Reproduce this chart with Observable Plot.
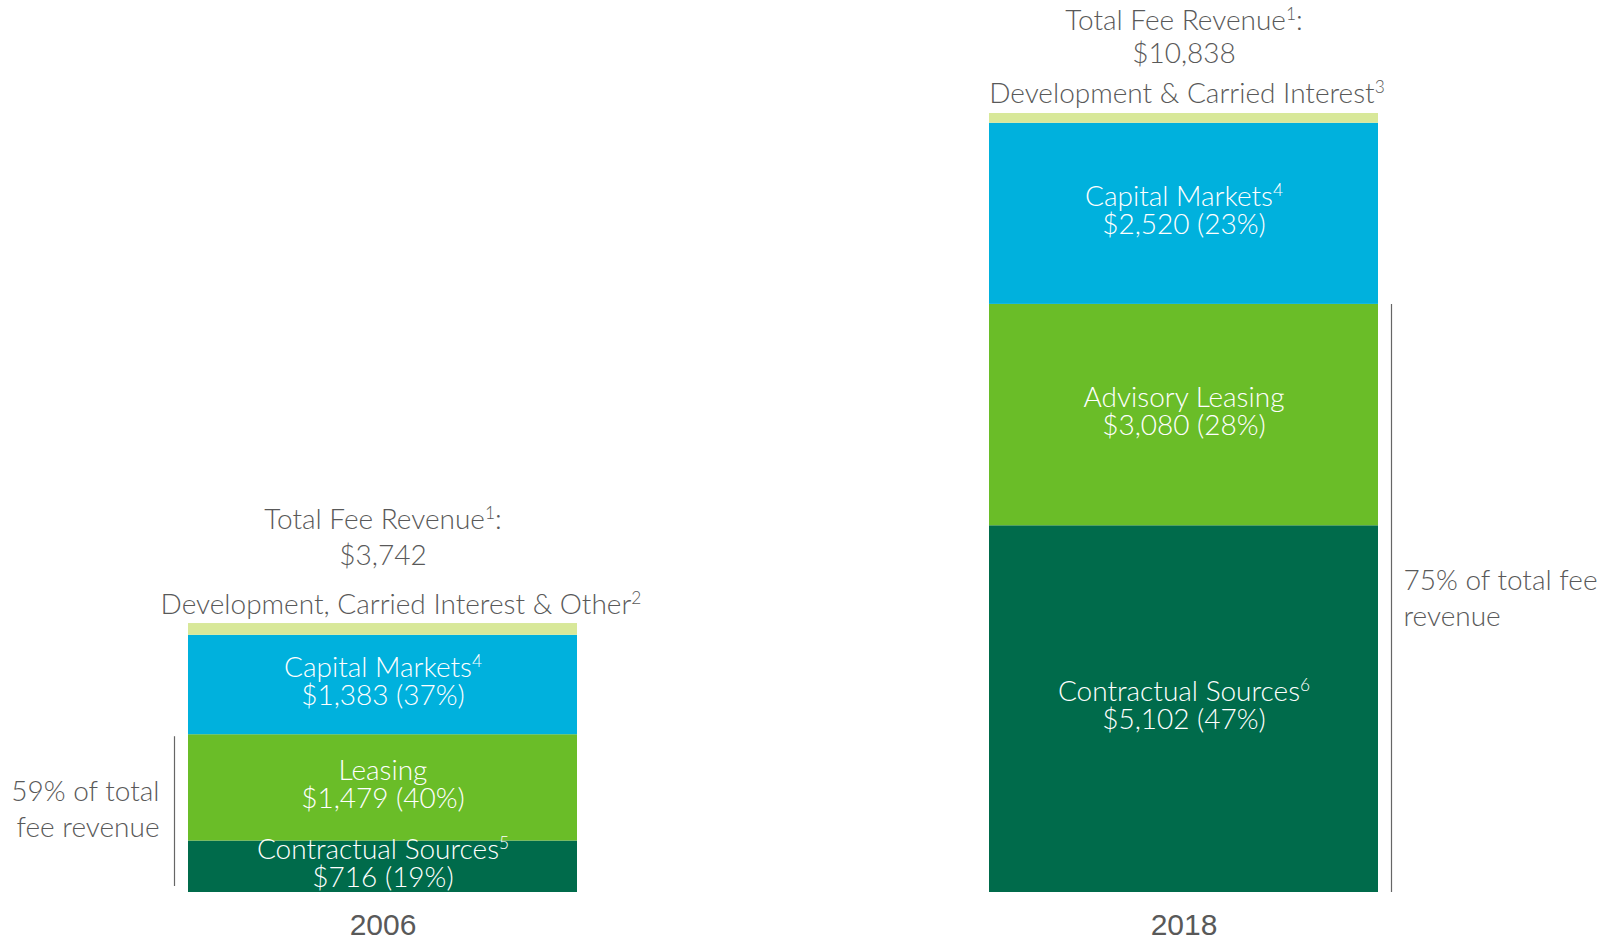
<!DOCTYPE html>
<html>
<head>
<meta charset="utf-8">
<script src="https://cdn.jsdelivr.net/npm/d3@7"></script>
<script src="https://cdn.jsdelivr.net/npm/@observablehq/plot@0.6"></script>
<style>
  html, body { margin: 0; padding: 0; background: #fff; }
  #chart svg { display: block; }
</style>
</head>
<body>
<div id="chart"></div>
<script>
// ---- data ----
const years = ["2006", "2018"];
const contractual = [716, 5102];
const leasing = [1479, 3080];
const capitalMarkets = [1383, 2520];
const development = [164, 136];
const totals = [3742, 10838];
const contractualPct = [19, 47];
const leasingPct = [40, 28];
const capitalPct = [37, 23];
const recurringPct = [59, 75];
const contractualNames = ["Contractual Sources⁵", "Contractual Sources⁶"];
const leasingNames = ["Leasing", "Advisory Leasing"];
const capitalNames = ["Capital Markets⁴", "Capital Markets⁴"];
const developmentNames = ["Development, Carried Interest & Other²", "Development & Carried Interest³"];
const totalTitle = "Total Fee Revenue¹:";
const recurringNotes = ["59% of total\nfee revenue", "75% of total fee\nrevenue"];

const segmentOrder = ["Contractual", "Leasing", "Capital Markets", "Development"];
const segmentColors = ["#006b4b", "#6abd28", "#00b1dd", "#d8e899"];

const fmt = d3.format(",");
const rows = [];
years.forEach((y, i) => {
  rows.push({year: y, seg: "Contractual", value: contractual[i], label: `${contractualNames[i]}\n$${fmt(contractual[i])} (${contractualPct[i]}%)`});
  rows.push({year: y, seg: "Leasing", value: leasing[i], label: `${leasingNames[i]}\n$${fmt(leasing[i])} (${leasingPct[i]}%)`});
  rows.push({year: y, seg: "Capital Markets", value: capitalMarkets[i], label: `${capitalNames[i]}\n$${fmt(capitalMarkets[i])} (${capitalPct[i]}%)`});
  rows.push({year: y, seg: "Development", value: development[i], label: ""});
});
const heads = years.map((y, i) => ({
  year: y, total: totals[i], recurring: contractual[i] + leasing[i],
  devName: developmentNames[i], totalText: `$${fmt(totals[i])}`, note: recurringNotes[i]
}));
const h06 = heads.filter(d => d.year === "2006");
const h18 = heads.filter(d => d.year === "2018");

const FONT = "Lato, 'Open Sans', sans-serif";
const GRAY = "#595959";
const FS = 28;
const FW = 300;

const chart = Plot.plot({
  width: 1612,
  height: 941,
  marginLeft: 188,
  marginRight: 234,
  marginTop: 113,
  marginBottom: 49,
  style: {fontFamily: FONT, background: "#fff"},
  x: {domain: years, paddingInner: 0.5144, paddingOuter: 0, axis: null},
  y: {domain: [0, 10838], axis: null},
  color: {domain: segmentOrder, range: segmentColors},
  marks: [
    Plot.barY(rows, Plot.stackY({x: "year", y: "value", fill: "seg", order: segmentOrder})),
    Plot.text(rows, Plot.stackY({
      x: "year", y: "value", text: "label", z: "seg", order: segmentOrder,
      fill: "white", fontSize: FS, fontWeight: FW, lineHeight: 1.0, dy: -3
    })),
    // dev labels just above bars
    Plot.text(h06, {x: "year", y: "total", text: "devName", dx: 18, dy: -19, fill: GRAY, fontSize: FS, fontWeight: FW}),
    Plot.text(h18, {x: "year", y: "total", text: "devName", dx: 3, dy: -19, fill: GRAY, fontSize: FS, fontWeight: FW}),
    // totals
    Plot.text(h06, {x: "year", y: "total", text: "totalText", dy: -68, fill: GRAY, fontSize: FS, fontWeight: FW}),
    Plot.text(h06, {x: "year", y: "total", text: () => totalTitle, dy: -104, fill: GRAY, fontSize: FS, fontWeight: FW}),
    Plot.text(h18, {x: "year", y: "total", text: "totalText", dy: -59, fill: GRAY, fontSize: FS, fontWeight: FW}),
    Plot.text(h18, {x: "year", y: "total", text: () => totalTitle, dy: -92, fill: GRAY, fontSize: FS, fontWeight: FW}),
    // brackets
    Plot.ruleX(h06, {x: "year", y1: "recurring", y2: 0, dx: -208.5, stroke: "#666", strokeWidth: 1.2, insetTop: 2, insetBottom: 6}),
    Plot.ruleX(h18, {x: "year", y1: "recurring", y2: 0, dx: 207.5, stroke: "#666", strokeWidth: 1.2}),
    Plot.text(h06, {x: "year", y: d => d.recurring / 2, text: "note", dx: -223.5, dy: -6, textAnchor: "end", fill: GRAY, fontSize: FS, fontWeight: FW, lineHeight: 1.28}),
    Plot.text(h18, {x: "year", y: d => d.recurring / 2, text: "note", dx: 219.5, dy: -2, textAnchor: "start", fill: GRAY, fontSize: FS, fontWeight: FW, lineHeight: 1.28}),
    // year labels
    Plot.text(heads, {x: "year", y: () => 0, text: "year", dy: 33, fill: "#595959", fontSize: 30, fontFamily: "'Liberation Sans', Arial, sans-serif"})
  ]
});

// turn Unicode superscript digits into small raised tspans
const supMap = {"¹": "1", "²": "2", "³": "3", "⁴": "4", "⁵": "5", "⁶": "6"};
const supRe = /[¹²³⁴⁵⁶]/;
const walker = document.createTreeWalker(chart, NodeFilter.SHOW_TEXT);
const textNodes = [];
while (walker.nextNode()) if (supRe.test(walker.currentNode.nodeValue)) textNodes.push(walker.currentNode);
const NS = "http://www.w3.org/2000/svg";
for (const node of textNodes) {
  const parts = node.nodeValue.split(/([¹²³⁴⁵⁶])/).filter(s => s !== "");
  const frag = document.createDocumentFragment();
  for (const p of parts) {
    if (supMap[p]) {
      const t = document.createElementNS(NS, "tspan");
      t.setAttribute("font-size", "0.62em");
      t.setAttribute("baseline-shift", "super");
      t.textContent = supMap[p];
      frag.appendChild(t);
    } else {
      frag.appendChild(document.createTextNode(p));
    }
  }
  node.parentNode.replaceChild(frag, node);
}
document.getElementById("chart").appendChild(chart);
</script>
</body>
</html>
